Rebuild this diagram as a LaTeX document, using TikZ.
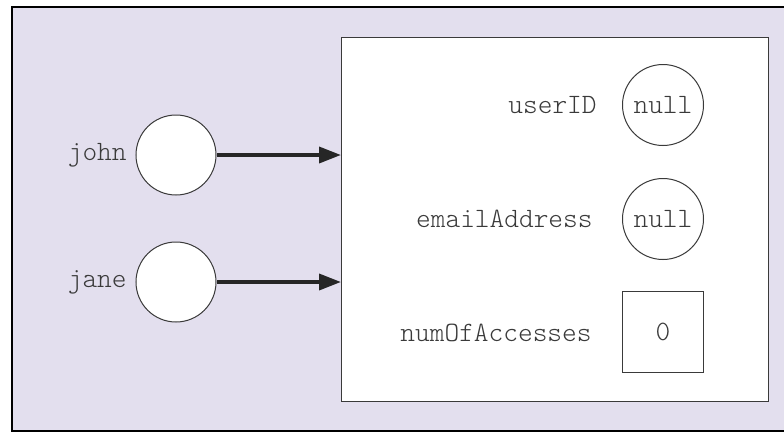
\documentclass[tikz,border=0pt]{standalone}
\usepackage{fontspec}
\setmonofont{Latin Modern Mono Light}
\usetikzlibrary{arrows.meta}
\definecolor{panel}{HTML}{E3DFEE}
\definecolor{ink}{HTML}{3A3A3A}
\tikzset{
  lbl/.style={font=\ttfamily\fontsize{14}{16}\selectfont, text=ink, inner sep=0pt},
  refvar/.style={circle, draw=ink, line width=0.5pt, fill=white, minimum size=40pt, inner sep=0pt},
  valcirc/.style={circle, draw=ink, line width=0.5pt, fill=white, minimum size=40.5pt, inner sep=0pt,
                  font=\ttfamily\fontsize{14}{16}\selectfont, text=ink},
  valbox/.style={rectangle, draw=ink, line width=0.5pt, fill=white, minimum size=40.5pt, inner sep=0pt,
                 font=\ttfamily\fontsize{14}{16}\selectfont, text=ink},
  ptr/.style={line width=1.8pt, draw=black!85, -{Triangle[length=11pt,width=8pt]}, shorten >=0pt}
}
\begin{document}
\begin{tikzpicture}[x=0.5pt, y=-0.5pt]
  \useasboundingbox (0,0) rectangle (784,434);
  \clip (0,0) rectangle (784,434);
  % outer frame with shaded panel
  \draw[line width=1pt, fill=panel] (12,7) rectangle (800,431);
  % object box
  \node[draw=ink, line width=0.6pt, fill=white, minimum width=213.5pt, minimum height=182pt,
        inner sep=0pt, anchor=north west] (obj) at (341,37) {};
  % reference variables
  \node[refvar] (john) at (176,155) {};
  \node[refvar] (jane) at (176,282) {};
  \node[lbl, anchor=east] (johnlbl) at (127,155) {john};
  \node[lbl, anchor=east] (janelbl) at (127,282) {jane};
  % fields
  \node[valcirc] (uid) at (663,105) {null};
  \node[valcirc] (email) at (663,219) {null};
  \node[valbox] (num) at (663,332) {0};
  \node[lbl, anchor=east] (uidlbl) at (597,105) {userID};
  \node[lbl, anchor=east] (emaillbl) at (593,219) {emailAddress};
  \node[lbl, anchor=east] (numlbl) at (592,333) {numOfAccesses};
  % pointers
  \coordinate (jt) at (obj.west |- john);
  \coordinate (at) at (obj.west |- jane);
  \draw[ptr] (john.east) -- (jt);
  \draw[ptr] (jane.east) -- (at);
\end{tikzpicture}
\end{document}
